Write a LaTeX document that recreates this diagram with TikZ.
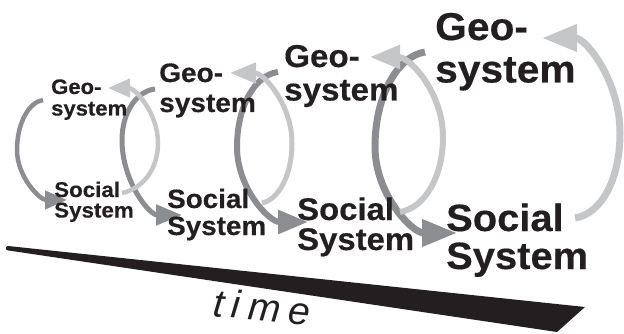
\documentclass[tikz,border=0pt]{standalone}
\usepackage{fontspec}
\setmainfont{Liberation Sans}[FakeStretch=1.05, BoldFeatures={FakeBold=0.4}]
\newfontfamily\timefont{Liberation Sans}[FakeStretch=1.0]
\usetikzlibrary{arrows.meta}
\definecolor{ink}{RGB}{35,31,32}
\definecolor{darkarc}{RGB}{140,141,144}
\definecolor{lightarc}{RGB}{197,198,200}
\newcommand{\twolines}[4]{\fontsize{#1}{#1}\selectfont\bfseries\vtop{\baselineskip=#2pt\lineskiplimit=-1000pt\lineskip=0pt\hbox{#3}\hbox{#4}}}
\tikzset{
  lbl/.style={anchor=base west, inner sep=0pt, text=ink},
  dk/.style={draw=darkarc},
  lt/.style={draw=lightarc},
  szA/.style={line width=4.5pt, -{Triangle[length=22pt,width=18pt]}},
  szB/.style={line width=5pt, -{Triangle[length=26pt,width=20pt]}},
  szC/.style={line width=6pt, -{Triangle[length=30pt,width=23pt]}},
  szD/.style={line width=7pt, -{Triangle[length=35pt,width=26pt]}},
}
\begin{document}
\begin{tikzpicture}[x=1pt,y=-1pt]
\useasboundingbox (0,0) rectangle (624,334);
% arc end points
\coordinate (d1s) at (43,100);  \coordinate (d1m) at (17,150);  \coordinate (d1e) at (67,200);
\coordinate (l1s) at (122,193); \coordinate (l1m) at (158,143); \coordinate (l1e) at (108,88);
\coordinate (d2s) at (155,89);  \coordinate (d2m) at (122,140); \coordinate (d2e) at (182,215);
\coordinate (l2s) at (262,203); \coordinate (l2m) at (292,143); \coordinate (l2e) at (230,73);
\coordinate (d3s) at (278,72);  \coordinate (d3m) at (237,147); \coordinate (d3e) at (308,222);
\coordinate (l3s) at (400,212); \coordinate (l3m) at (443,137); \coordinate (l3e) at (370,57);
\coordinate (d4s) at (425,52);  \coordinate (d4m) at (375,147); \coordinate (d4e) at (457,233);
\coordinate (l4s) at (575,218); \coordinate (l4m) at (620,133); \coordinate (l4e) at (542,38);
% dark arcs: geosystem -> social system
\draw[dk,szA] (d1s) .. controls (29,102) and (17,123) .. (d1m) .. controls (17,177) and (40,200) .. (d1e);
\draw[dk,szB] (d2s) .. controls (137,91) and (122,112) .. (d2m) .. controls (122,181) and (149,215) .. (d2e);
\draw[dk,szC] (d3s) .. controls (255,75) and (237,106) .. (d3m) .. controls (237,188) and (269,222) .. (d3e);
\draw[dk,szD] (d4s) .. controls (398,56) and (375,95) .. (d4m) .. controls (375,194) and (412,233) .. (d4e);
% light arcs: social system -> geosystem
\draw[lt,szA] (l1s) .. controls (142,189) and (158,170) .. (l1m) .. controls (158,113) and (135,88) .. (l1e);
\draw[lt,szB] (l2s) .. controls (278,200) and (292,176) .. (l2m) .. controls (292,105) and (264,73) .. (l2e);
\draw[lt,szC] (l3s) .. controls (424,208) and (443,178) .. (l3m) .. controls (443,93) and (410,57) .. (l3e);
\draw[lt,szD] (l4s) .. controls (601,214) and (620,180) .. (l4m) .. controls (620,81) and (586,38) .. (l4e);
% labels
\node[lbl] (g1) at (51,94)    {\twolines{21}{21.5}{Geo-}{system}};
\node[lbl] (s1) at (54,197)   {\twolines{21.3}{20.5}{Social}{System}};
\node[lbl] (g2) at (159,82)   {\twolines{26.7}{30}{Geo-}{system}};
\node[lbl] (s2) at (167,208)  {\twolines{26.5}{27}{Social}{System}};
\node[lbl] (g3) at (284,67)   {\twolines{31.6}{33.5}{Geo-}{system}};
\node[lbl] (s3) at (297,220)  {\twolines{31.3}{30}{Social}{System}};
\node[lbl] (g4) at (435,40)   {\twolines{38.8}{42.5}{Geo-}{system}};
\node[lbl] (s4) at (446,231)  {\twolines{38}{38}{Social}{System}};
% time wedge
\fill[ink] (8,246) -- (585,307) -- (557,332) -- (8,250.4) -- cycle;
\fill[ink] (8,248.2) circle (2.2);
\node[lbl, rotate=-5.5, font=\timefont\itshape\fontsize{39}{39}\selectfont] (time) at (212,316) {t\kern8pt i\kern8pt m\kern8pt e};
\end{tikzpicture}
\end{document}
